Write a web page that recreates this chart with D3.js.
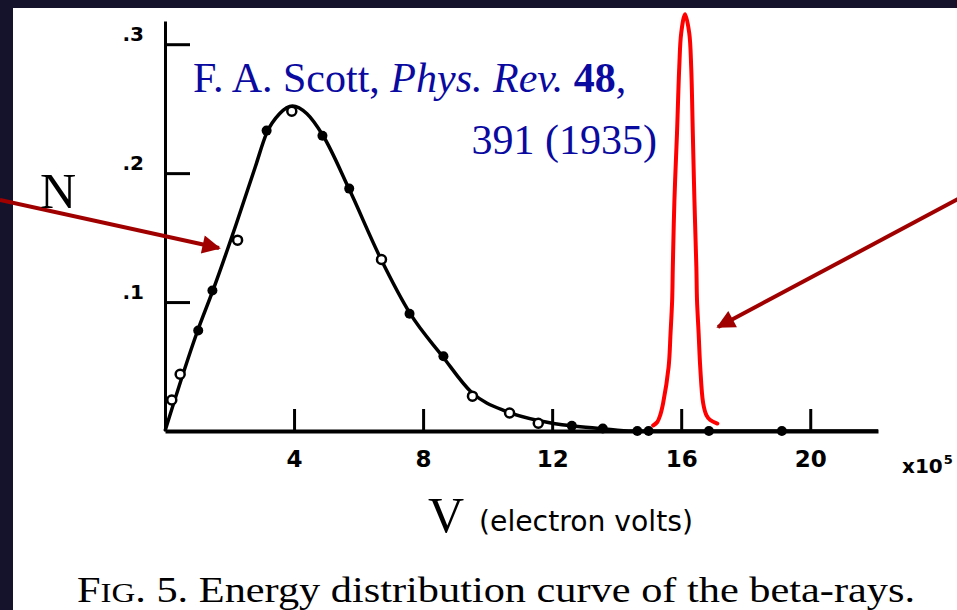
<!DOCTYPE html>
<html><head><meta charset="utf-8">
<script src="https://cdn.jsdelivr.net/npm/d3@7"></script>
<style>html,body{margin:0;padding:0;background:#15132c;overflow:hidden}</style>
</head><body>
<script>
// ---- data (V in units of 10^5 eV, N relative) ----
const curveV = [0, 1.0, 1.5, 2.2, 2.8, 3.15, 3.55, 3.95, 4.4, 4.9, 5.7, 6.7, 7.6, 8.6, 9.5, 10.6, 11.6, 12.6, 13.5, 14.5, 22.1];
const curveN = [0, 0.077, 0.11, 0.16, 0.205, 0.231, 0.246, 0.252, 0.246, 0.229, 0.188, 0.133, 0.091, 0.058, 0.030, 0.015, 0.008, 0.004, 0.002, 0.0, 0.0];
const filledV = [1.03, 1.47, 3.15, 4.88, 5.71, 7.58, 8.63, 12.61, 13.57, 14.64, 14.99, 16.86, 19.12];
const filledN = [0.078, 0.109, 0.233, 0.229, 0.188, 0.091, 0.058, 0.004, 0.002, 0.0, 0.0, 0.0, 0.0];
const openV = [0.21, 0.47, 2.25, 3.93, 6.71, 9.53, 10.68, 11.57];
const openN = [0.024, 0.044, 0.148, 0.248, 0.133, 0.027, 0.014, 0.006];
const peakV = [15.13, 15.26, 15.35, 15.44, 15.61, 15.67, 15.72, 15.74, 15.79, 15.87, 15.94, 16.00, 16.12, 16.25, 16.31, 16.36, 16.41, 16.47, 16.49, 16.54, 16.59, 16.68, 16.78, 16.90, 17.12];
const peakN = [0.0043, 0.0070, 0.0124, 0.0217, 0.0496, 0.0760, 0.1016, 0.1271, 0.1791, 0.2310, 0.2822, 0.3085, 0.3233, 0.3085, 0.2822, 0.2310, 0.1791, 0.1271, 0.1016, 0.0760, 0.0496, 0.0217, 0.0124, 0.0085, 0.0058];
const xTicks = [4, 8, 12, 16, 20];
const xTickLabels = ["4", "8", "12", "16", "20"];
const yTicks = [0.1, 0.2, 0.3];
const yTickLabels = [".1", ".2", ".3"];

const W = 957, H = 610;
const svg = d3.select("body").append("svg").attr("width", W).attr("height", H)
  .style("display","block");

// background (dark space) and white panel
svg.append("rect").attr("width", W).attr("height", H).attr("fill", "#15132c");
svg.append("rect").attr("x", 13).attr("y", 8).attr("width", W - 13).attr("height", H - 8).attr("fill", "#fff");

const x = d3.scaleLinear().domain([0, 22.1]).range([165, 878]);
const y = d3.scaleLinear().domain([0, 0.318]).range([431, 21]);

// axes
const xAxis = d3.axisBottom(x).tickValues(xTicks).tickFormat((d, i) => xTickLabels[i])
  .tickSizeInner(-22).tickSizeOuter(0).tickPadding(20);
const gx = svg.append("g").attr("transform", `translate(0,${y(0)})`).call(xAxis)
  .attr("font-size", 23).attr("font-family", "'DejaVu Sans', sans-serif").attr("font-weight", "bold");
gx.select(".domain").attr("stroke", "#000").attr("stroke-width", 4);
gx.selectAll(".tick line").attr("stroke", "#000").attr("stroke-width", 3);
gx.selectAll(".tick text").attr("fill", "#000");

const yAxis = d3.axisLeft(y).tickValues(yTicks).tickFormat((d, i) => yTickLabels[i])
  .tickSizeInner(-25).tickSizeOuter(0).tickPadding(21);
const gy = svg.append("g").attr("transform", `translate(${x(0)},0)`).call(yAxis)
  .attr("font-size", 20).attr("font-family", "'DejaVu Sans', sans-serif").attr("font-weight", "bold");
gy.select(".domain").attr("stroke", "#000").attr("stroke-width", 3);
gy.selectAll(".tick line").attr("stroke", "#000").attr("stroke-width", 3);
gy.selectAll(".tick text").attr("fill", "#000").attr("dy", "-0.2em");

// x10^5 label (two separate texts so they do not overlap)
const xl = svg.append("text").attr("x", 902).attr("y", 473)
  .attr("font-family", "'DejaVu Sans', sans-serif").attr("font-weight", "bold").attr("font-size", 20).attr("fill", "#000")
  .text("x10");
const xlw = xl.node().getComputedTextLength();
svg.append("text").attr("x", 902 + xlw + 1).attr("y", 464)
  .attr("font-family", "'DejaVu Sans', sans-serif").attr("font-weight", "bold").attr("font-size", 13).attr("fill", "#000")
  .text("5");

// data curve
const line = d3.line().x((d) => x(d[0])).y((d) => y(d[1])).curve(d3.curveMonotoneX);
svg.append("path").datum(d3.zip(curveV, curveN)).attr("d", line)
  .attr("fill", "none").attr("stroke", "#000").attr("stroke-width", 3.5).attr("stroke-linejoin", "round");

svg.append("g").selectAll("circle").data(d3.zip(filledV, filledN)).join("circle")
  .attr("cx", (d) => x(d[0])).attr("cy", (d) => y(d[1])).attr("r", 5).attr("fill", "#000");
svg.append("g").selectAll("circle").data(d3.zip(openV, openN)).join("circle")
  .attr("cx", (d) => x(d[0])).attr("cy", (d) => y(d[1])).attr("r", 4.5)
  .attr("fill", "#fff").attr("stroke", "#000").attr("stroke-width", 2.5);

// red peak
const pline = d3.line().x((d) => x(d[0])).y((d) => y(d[1])).curve(d3.curveCatmullRom.alpha(0.5));
svg.append("path").datum(d3.zip(peakV, peakN)).attr("d", pline)
  .attr("fill", "none").attr("stroke", "#ff0000").attr("stroke-width", 4).attr("stroke-linecap", "round");

// arrows
const defs = svg.append("defs");
defs.append("marker").attr("id", "ah").attr("viewBox", "0 0 10 10").attr("refX", 9).attr("refY", 5)
  .attr("markerWidth", 5).attr("markerHeight", 4.6).attr("markerUnits", "strokeWidth").attr("orient", "auto")
  .append("path").attr("d", "M0,0 L10,5 L0,10 z").attr("fill", "#a00000");
svg.append("line").attr("x1", 0).attr("y1", 200).attr("x2", 219).attr("y2", 248)
  .attr("stroke", "#a00000").attr("stroke-width", 4).attr("marker-end", "url(#ah)");
svg.append("line").attr("x1", 960).attr("y1", 198).attr("x2", 718).attr("y2", 327)
  .attr("stroke", "#a00000").attr("stroke-width", 4).attr("marker-end", "url(#ah)");

// axis titles
svg.append("text").attr("x", 40).attr("y", 208).text("N")
  .style("font-family", "'Liberation Serif', serif").style("font-size", "50px").attr("fill", "#000");
svg.append("text").attr("x", 428).attr("y", 532).text("V")
  .style("font-family", "'Liberation Serif', serif").style("font-size", "50px").attr("fill", "#000");
svg.append("text").attr("x", 479).attr("y", 531).text("(electron volts)")
  .attr("textLength", 214).attr("lengthAdjust", "spacingAndGlyphs")
  .style("font-family", "'DejaVu Sans', sans-serif").style("font-size", "28px").attr("fill", "#000");

// citation
const c1 = svg.append("text").attr("x", 193).attr("y", 92).attr("fill", "#0a0aa0")
  .style("font-family", "'Liberation Serif', serif").style("font-size", "42px");
c1.append("tspan").text("F. A. Scott, ");
c1.append("tspan").style("font-style", "italic").text("Phys. Rev.");
c1.append("tspan").text(" ");
c1.append("tspan").style("font-weight", "bold").text("48");
c1.append("tspan").text(",");
svg.append("text").attr("x", 657).attr("y", 154).attr("text-anchor", "end").attr("fill", "#0a0aa0")
  .style("font-family", "'Liberation Serif', serif").style("font-size", "42px").text("391 (1935)");

// caption
const cap = svg.append("text").attr("x", 77).attr("y", 602).attr("fill", "#000")
  .attr("textLength", 838).attr("lengthAdjust", "spacingAndGlyphs")
  .style("font-family", "'Liberation Serif', serif").style("font-size", "36px");
cap.append("tspan").text("F");
cap.append("tspan").style("font-size", "28px").text("IG");
cap.append("tspan").text(". 5. Energy distribution curve of the beta-rays.");
</script>
</body></html>
